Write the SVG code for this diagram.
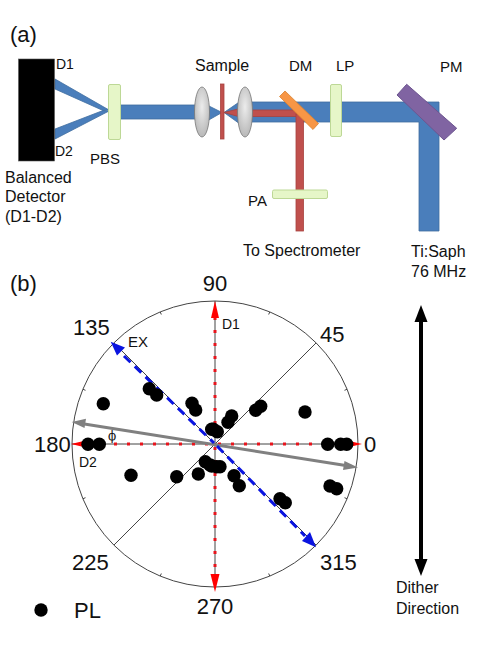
<svg xmlns="http://www.w3.org/2000/svg" width="498" height="645" viewBox="0 0 498 645">
<style>
text{font-family:"Liberation Sans",Arial,sans-serif;fill:#111}
.d{font-size:14px}.s{font-size:15px}.t{font-size:16px}.l{font-size:22px}.n{font-size:22px}
.blue{fill:#4a7ebb;stroke:#3f6d9f;stroke-width:.8}
.red{fill:#c0504d;stroke:#a8423f;stroke-width:.8}
.green{fill:#e6f6c8;stroke:#bdd896;stroke-width:1}
.lens{fill:url(#lg);stroke:#777;stroke-width:.8}
.axis{stroke:#444;stroke-width:1;fill:none}
.tick{stroke:#444;stroke-width:1}
.dash{stroke:#e8141c;stroke-width:3;stroke-dasharray:3 10;fill:none}
.dot{fill:#000}
</style>
<defs>
<radialGradient id="lg" cx=".5" cy=".4" r=".65"><stop offset="0" stop-color="#ececec"/><stop offset="1" stop-color="#b4b4b4"/></radialGradient>
</defs>
<text class="l" x="10" y="42">(a)</text>
<g id="beams">
<polygon class="blue" points="55,79 55,89 103,110.500 109,110 "/>
<polygon class="blue" points="55,129 55,139 109,111 103,110.500"/>
<rect class="blue" x="118" y="105" width="80" height="14"/>
<polygon class="blue" points="207,105 222,112.500 207,121"/>
<polygon class="blue" points="224,112.500 240,101.500 240,124"/>
<polygon class="red" points="224,112.500 240,108.500 240,117"/>
<polygon class="blue" points="250,102 439,102 439,231 419,231 419,122 250,122"/>
<rect class="red" x="250" y="110" width="47" height="6.500"/>
<rect class="red" x="296" y="114" width="7.500" height="117"/>
</g>
<g id="detector"><rect x="18.500" y="59" width="36" height="102" fill="#000" stroke="#555" stroke-width=".6"/>
<text class="d" x="56" y="69">D1</text><text class="d" x="55" y="156">D2</text>
<text class="t" x="5" y="183">Balanced</text><text class="t" x="5" y="202">Detector</text><text class="t" x="5" y="222">(D1-D2)</text></g>
<g id="pbs"><rect class="green" x="108.500" y="84.500" width="12" height="55" rx="1.500"/><text class="s" x="90" y="164">PBS</text></g>
<g id="lens1"><ellipse class="lens" cx="202" cy="112" rx="7.500" ry="25"/></g>
<g id="sample"><rect class="red" x="220.500" y="84" width="3.500" height="55"/><text class="t" x="195" y="71">Sample</text></g>
<g id="lens2"><ellipse class="lens" cx="245" cy="112" rx="7.500" ry="25"/></g>
<g id="dm"><polygon points="285,91 279.500,96.500 313,129.500 318.500,123.500" fill="#f79646" stroke="#d9822f" stroke-width=".8"/><text class="s" x="289" y="71">DM</text></g>
<g id="lp"><rect class="green" x="330.500" y="84.500" width="11" height="52" rx="1.500"/><text class="s" x="336" y="71">LP</text></g>
<g id="pm"><polygon points="406.700,84.300 397,95 444,140 456.700,128.300" fill="#8064a2" stroke="#6d5590" stroke-width="1" stroke-linejoin="round"/><text class="s" x="440" y="72">PM</text></g>
<g id="pa"><rect class="green" x="272.500" y="190" width="55" height="8.500" rx="1.500"/><text class="s" x="248" y="206">PA</text></g>
<g id="spectrometer"><text class="t" x="243" y="256">To Spectrometer</text></g>
<g id="laser"><text class="t" x="411" y="257">Ti:Saph</text><text class="t" x="411" y="277">76 MHz</text></g>

<text class="l" x="10" y="291">(b)</text>
<g id="polar">
<circle class="axis" cx="215" cy="444" r="143"/>
<path class="axis" d="M72 444H358M215 301V587M113.900 342.900L316.100 545.100M113.900 545.100L316.100 342.900"/>
<path class="tick" d="M347 389.300l-2.500 1M269.700 312l-1 2.500M160.300 312l1 2.500M83 389.300l2.500 1M83 498.700l2.500-1M160.300 576l1-2.500M269.700 576l-1-2.500M347 498.700l-2.500-1"/>
</g>
<g id="connectors">
<path class="dash" d="M215 317V571M88 444H342"/>
<polygon points="215,301 211,318 219,318" fill="#f00"/>
<polygon points="215,592 210.500,574 219.500,574" fill="#f00"/>
<polygon points="71,444 88,440 88,448" fill="#f00"/>
<polygon points="362,444 345,440 345,448" fill="#f00"/>
<path d="M78 423L352 466.500" stroke="#808080" stroke-width="3" fill="none"/>
<polygon points="71.700,422 86,418.700 84.500,428" fill="#808080"/>
<polygon points="358,467.500 343,470 344.500,461" fill="#808080"/>
<path d="M124 356L214 443M217 446L305 536" stroke="#0a14e0" stroke-width="3" stroke-dasharray="9 6" fill="none"/>
<polygon points="110.700,341.700 125,347.500 117,355.500" fill="#0a14e0"/>
<polygon points="316,547.300 302,541 310,532" fill="#0a14e0"/>
</g>
<g id="points">
<circle class="dot" cx="149.300" cy="388.700" r="6.700"/><circle class="dot" cx="156.700" cy="395" r="6.700"/><circle class="dot" cx="103.300" cy="403.700" r="6.700"/><circle class="dot" cx="192" cy="403.300" r="6.700"/><circle class="dot" cx="195.700" cy="410" r="6.700"/><circle class="dot" cx="213.300" cy="429.300" r="6.700"/><circle class="dot" cx="88" cy="444.300" r="6.700"/><circle class="dot" cx="99.300" cy="444.300" r="6.700"/>
<circle class="dot" cx="231.700" cy="416" r="6.700"/><circle class="dot" cx="228" cy="422.300" r="6.700"/><circle class="dot" cx="260.700" cy="406.300" r="6.700"/><circle class="dot" cx="255.700" cy="410.300" r="6.700"/><circle class="dot" cx="305" cy="412" r="6.700"/><circle class="dot" cx="217.300" cy="431.700" r="6.700"/><circle class="dot" cx="211.700" cy="429.300" r="6.700"/><circle class="dot" cx="327.700" cy="444.300" r="6.700"/><circle class="dot" cx="340.700" cy="444.300" r="6.700"/><circle class="dot" cx="346.700" cy="444.300" r="6.700"/>
<circle class="dot" cx="131" cy="475.300" r="6.700"/><circle class="dot" cx="176.700" cy="476.700" r="6.700"/><circle class="dot" cx="198.300" cy="474" r="6.700"/><circle class="dot" cx="205.300" cy="461.700" r="6.700"/><circle class="dot" cx="211.700" cy="466" r="6.700"/><circle class="dot" cx="216.700" cy="466.700" r="6.700"/><circle class="dot" cx="210" cy="465" r="6.700"/><circle class="dot" cx="220" cy="466.700" r="6.700"/><circle class="dot" cx="234" cy="475.700" r="6.700"/><circle class="dot" cx="239.300" cy="485.700" r="6.700"/><circle class="dot" cx="280" cy="498.700" r="6.700"/><circle class="dot" cx="285.300" cy="502.700" r="6.700"/><circle class="dot" cx="330" cy="486" r="6.700"/><circle class="dot" cx="336.700" cy="488.700" r="6.700"/>
</g>
<g id="labels">
<text class="n" x="215" y="291" text-anchor="middle">90</text>
<text class="n" x="73" y="335">135</text>
<text class="n" x="320" y="342">45</text>
<text class="n" x="34" y="452">180</text>
<text class="n" x="364" y="452">0</text>
<text class="n" x="72" y="570">225</text>
<text class="n" x="320" y="570">315</text>
<text class="n" x="215" y="614" text-anchor="middle">270</text>
<text class="d" x="222" y="329">D1</text>
<text class="s" x="128" y="347">EX</text>
<text class="d" x="79" y="467">D2</text>
<text x="108" y="440" font-size="12" style="font-family:'DejaVu Serif',serif">ϕ</text>
</g>
<g id="dither">
<path d="M421 318V564" stroke="#000" stroke-width="4" fill="none"/>
<polygon points="421,305 414.500,322 427.500,322" fill="#000"/>
<polygon points="421,576 414.500,559 427.500,559" fill="#000"/>
<text class="t" x="396" y="593">Dither</text><text class="t" x="396" y="614">Direction</text>
</g>
<g id="legend"><circle class="dot" cx="41" cy="610" r="6.700"/><text class="n" x="74" y="618">PL</text></g>
</svg>
